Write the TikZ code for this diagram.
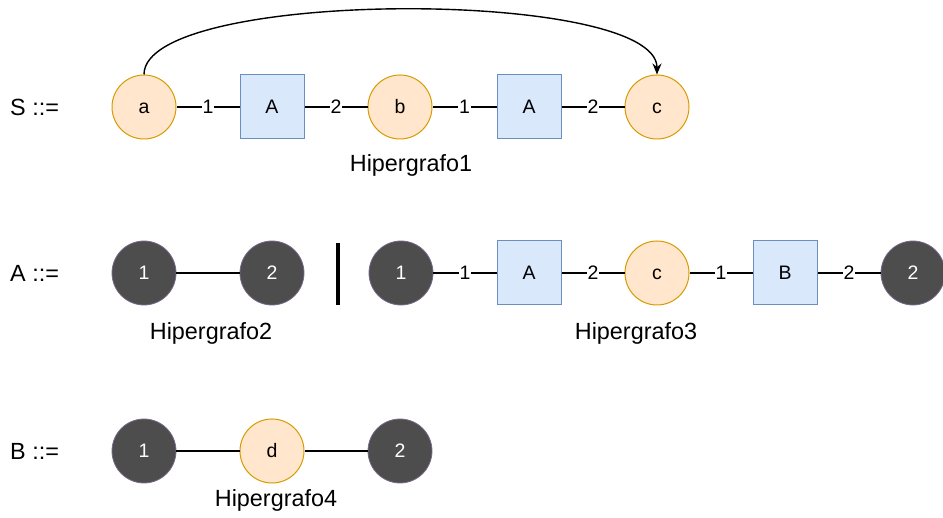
\documentclass[tikz,border=0pt]{standalone}
\usepackage{fontspec}
\setmainfont{Liberation Sans}
\usetikzlibrary{arrows.meta}
\definecolor{termfill}{HTML}{FFE6CC}
\definecolor{termdraw}{HTML}{D79B00}
\definecolor{edgefill}{HTML}{DAE8FC}
\definecolor{edgedraw}{HTML}{6C8EBF}
\definecolor{extfill}{HTML}{4D4D4D}
\definecolor{extdraw}{HTML}{7A6A8A}
\tikzset{
  base/.style={inner sep=0pt, font=\fontsize{19.5}{23}\selectfont, text height=14pt, text depth=0pt},
  term/.style={base, circle, minimum size=64pt, fill=termfill, draw=termdraw, line width=1pt},
  hedge/.style={base, rectangle, minimum size=64pt, fill=edgefill, draw=edgedraw, line width=1pt},
  ext/.style={base, circle, minimum size=64pt, fill=extfill, draw=extdraw, line width=0.8pt, text=white},
  tent/.style={line width=1.4pt, black},
  tlab/.style={fill=white, inner sep=1pt, font=\fontsize{19.5}{23}\selectfont},
  title/.style={font=\fontsize{23.4}{28}\selectfont, inner sep=0pt},
  rule/.style={font=\fontsize{23.4}{28}\selectfont, inner sep=0pt, anchor=west},
}
\begin{document}
\begin{tikzpicture}[x=1pt, y=-1pt]
\useasboundingbox (0,0) rectangle (943,518);

% S ::= Hipergrafo1
\node[rule] (ls) at (10,107) {S ::=};
\node[term]  (a)  at (144,107) {a};
\node[hedge] (s1) at (272,107) {A};
\node[term]  (b)  at (400,107) {b};
\node[hedge] (s2) at (529,107) {A};
\node[term]  (c)  at (657,107) {c};
\node[title] (h1) at (411,165) {Hipergrafo1};
\draw[tent] (a) -- node[tlab] {1} (s1);
\draw[tent] (s1) -- node[tlab] {2} (b);
\draw[tent] (b) -- node[tlab] {1} (s2);
\draw[tent] (s2) -- node[tlab] {2} (c);
\draw[line width=1.4pt, -{Stealth[length=11pt, width=9pt]}]
  (a.north) .. controls (144,-12) and (657,-12) .. (c.north);

% A ::= Hipergrafo2 | Hipergrafo3
\node[rule] (la) at (10,273) {A ::=};
\node[ext] (p1) at (144,273) {1};
\node[ext] (p2) at (272,273) {2};
\draw[tent] (p1) -- (p2);
\node[title] (h2) at (211,333) {Hipergrafo2};
\coordinate (bart) at (338,243);
\coordinate (barb) at (338,305);
\draw[line width=4pt] (bart) -- (barb);
\node[ext]   (q1) at (401,273) {1};
\node[hedge] (q2) at (529,273) {A};
\node[term]  (q3) at (657,273) {c};
\node[hedge] (q4) at (785,273) {B};
\node[ext]   (q5) at (913,273) {2};
\draw[tent] (q1) -- node[tlab] {1} (q2);
\draw[tent] (q2) -- node[tlab] {2} (q3);
\draw[tent] (q3) -- node[tlab] {1} (q4);
\draw[tent] (q4) -- node[tlab] {2} (q5);
\node[title] (h3) at (636,333) {Hipergrafo3};

% B ::= Hipergrafo4
\node[rule] (lb) at (10,451) {B ::=};
\node[ext]  (r1) at (144,451) {1};
\node[term] (r2) at (272,451) {d};
\node[ext]  (r3) at (400,451) {2};
\draw[tent] (r1) -- (r2);
\draw[tent] (r2) -- (r3);
\node[title] (h4) at (276,500) {Hipergrafo4};
\end{tikzpicture}
\end{document}
